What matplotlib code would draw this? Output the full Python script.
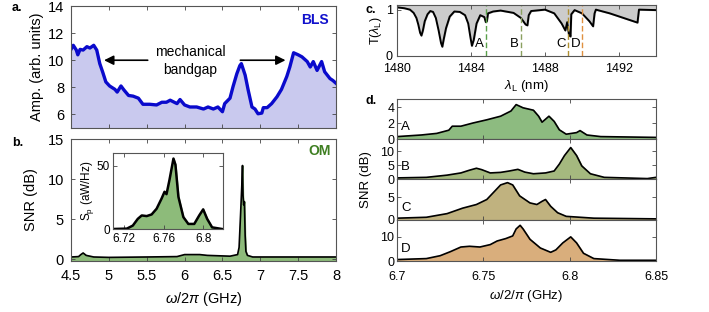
import numpy as np
import matplotlib
matplotlib.use('Agg')
import matplotlib.pyplot as plt

plt.rcParams['font.family'] = ['Liberation Sans', 'DejaVu Sans']
plt.rcParams['mathtext.fontset'] = 'custom'
plt.rcParams['mathtext.rm'] = 'Liberation Sans'
plt.rcParams['mathtext.it'] = 'Liberation Sans:italic'
plt.rcParams['axes.edgecolor'] = '#555555'
plt.rcParams['axes.linewidth'] = 0.8

W, H = 709, 312

# ---- panel a: BLS amplitude vs frequency (GHz)
f_bls = [4.50, 4.53, 4.57, 4.59, 4.62, 4.66, 4.71, 4.75, 4.80, 4.84, 4.88, 4.92,
         4.96, 5.01, 5.08, 5.11, 5.16, 5.20, 5.26, 5.32, 5.39, 5.45, 5.54, 5.63,
         5.70, 5.76, 5.81, 5.90, 5.94, 6.00, 6.07, 6.16, 6.25, 6.31, 6.38, 6.44,
         6.50, 6.53, 6.60, 6.64, 6.69, 6.73, 6.75, 6.80, 6.84, 6.89, 6.93, 6.97,
         7.02, 7.04, 7.09, 7.15, 7.22, 7.28, 7.35, 7.39, 7.44, 7.50, 7.55, 7.62,
         7.66, 7.70, 7.75, 7.81, 7.85, 7.92, 7.96, 8.00]
a_bls = [10.8, 11.1, 10.75, 10.4, 10.8, 10.75, 11.0, 10.9, 11.1, 10.75, 9.75, 9.1,
         8.4, 8.1, 7.85, 7.65, 8.1, 7.8, 7.4, 7.35, 7.2, 6.75, 6.75, 6.7,
         6.9, 6.9, 7.05, 6.8, 7.1, 6.7, 6.55, 6.55, 6.4, 6.55, 6.4, 6.55,
         6.2, 6.8, 7.2, 8.05, 9.0, 9.6, 9.75, 8.9, 7.8, 6.55, 6.4, 6.05,
         6.1, 6.5, 6.5, 6.8, 7.3, 7.85, 8.8, 9.5, 10.55, 10.4, 10.25, 9.9,
         9.5, 9.9, 9.25, 9.9, 9.15, 8.65, 8.5, 8.3]

# ---- panel b: OM SNR (dB)
f_om = [4.50, 4.60, 4.63, 4.66, 4.70, 4.80, 5.00, 5.50, 5.90, 6.00, 6.20, 6.30,
        6.60, 6.70, 6.72, 6.74, 6.755, 6.765, 6.772, 6.78, 6.79, 6.80, 6.81,
        6.83, 6.90, 7.50, 8.00]
snr_om = [0.3, 0.35, 0.6, 0.8, 0.5, 0.3, 0.25, 0.3, 0.35, 0.6, 0.6, 0.5,
          0.4, 0.6, 1.5, 5.7, 9.0, 11.7, 8.0, 6.8, 7.2, 3.0, 1.0,
          0.5, 0.3, 0.3, 0.3]

# inset: S_p (aW/Hz)
f_in = [6.709, 6.723, 6.729, 6.734, 6.738, 6.743, 6.748, 6.753, 6.758, 6.761,
        6.763, 6.766, 6.770, 6.772, 6.775, 6.780, 6.785, 6.791, 6.796, 6.800,
        6.804, 6.809, 6.819]
sp_in = [0.0, 0.3, 2.7, 8.0, 10.7, 10.2, 11.5, 16.0, 24.0, 29.4,
         27.5, 38.8, 55.6, 50.8, 25.4, 9.4, 4.0, 4.0, 10.7, 15.5,
         8.0, 1.3, 0.0]

# ---- panel c: transmission vs wavelength (nm)
lam = [1480.0, 1480.4, 1480.7, 1480.9, 1481.05, 1481.15, 1481.25, 1481.32, 1481.4,
       1481.5, 1481.65, 1481.8, 1481.95, 1482.1, 1482.25, 1482.38, 1482.45, 1482.52,
       1482.65, 1482.85, 1483.1, 1483.4, 1483.68, 1483.85, 1483.97, 1484.05, 1484.15,
       1484.3, 1484.5, 1484.72, 1484.8, 1484.86, 1484.92, 1485.2, 1485.6, 1486.3,
       1486.7, 1486.95, 1487.05, 1487.12, 1487.25, 1488.0, 1488.5, 1488.9, 1489.1,
       1489.2, 1489.29, 1489.38, 1489.42, 1489.6, 1490.0, 1490.4, 1490.6, 1490.68,
       1490.75, 1491.5, 1493.0, 1493.08, 1494.0]
trans = [1.05, 1.03, 1.0, 0.93, 0.82, 0.68, 0.5, 0.44, 0.55,
         0.75, 0.9, 0.97, 0.95, 0.82, 0.55, 0.28, 0.2, 0.35,
         0.6, 0.85, 0.96, 0.95, 0.88, 0.7, 0.4, 0.22, 0.35,
         0.7, 0.88, 0.84, 0.73, 0.75, 0.92, 0.96, 0.98, 0.93,
         0.82, 0.68, 0.66, 0.88, 0.97, 1.0, 0.92, 0.7, 0.55,
         0.73, 0.47, 0.42, 0.9, 0.99, 0.92, 0.75, 0.64, 0.92,
         1.0, 0.92, 0.72, 1.0, 0.99]
lam_marks = [1484.8, 1486.7, 1489.25, 1490.0]
mark_names = ['A', 'B', 'C', 'D']
mark_colors = ['#5aa04a', '#8aa060', '#b09030', '#e09040']

# ---- panel d: SNR spectra at the four detunings
fd_A = [6.700, 6.714, 6.723, 6.730, 6.732, 6.737, 6.744, 6.752, 6.760, 6.766, 6.769,
        6.773, 6.779, 6.782, 6.784, 6.788, 6.791, 6.794, 6.798, 6.804, 6.806, 6.810,
        6.818, 6.850]
snr_A = [0.3, 0.5, 0.7, 1.1, 1.6, 1.6, 2.0, 2.4, 2.85, 3.5, 4.3,
         3.9, 3.6, 2.85, 2.1, 2.85, 2.2, 1.15, 0.6, 0.8, 1.05, 0.5,
         0.3, 0.2]
fd_B = [6.700, 6.717, 6.729, 6.737, 6.742, 6.746, 6.749, 6.754, 6.760, 6.765, 6.770,
        6.774, 6.779, 6.786, 6.791, 6.794, 6.797, 6.8006, 6.804, 6.807, 6.812, 6.820,
        6.845, 6.850]
snr_B = [0.4, 0.6, 1.4, 2.2, 3.2, 3.9, 3.4, 2.2, 2.4, 2.9, 3.5,
         2.5, 1.9, 2.2, 2.9, 5.4, 8.5, 11.4, 8.5, 4.75, 1.9, 0.6,
         0.15, 0.6]
fd_C = [6.700, 6.717, 6.729, 6.738, 6.746, 6.752, 6.756, 6.760, 6.764, 6.767, 6.771,
        6.777, 6.781, 6.784, 6.786, 6.789, 6.793, 6.798, 6.814, 6.850]
snr_C = [0.4, 0.6, 1.4, 2.6, 3.4, 4.5, 6.1, 7.7, 8.2, 7.7, 5.3,
         3.75, 3.4, 4.1, 4.5, 3.0, 1.6, 0.8, 0.4, 0.25]
fd_D = [6.700, 6.717, 6.725, 6.731, 6.737, 6.742, 6.748, 6.754, 6.758, 6.763, 6.767,
        6.769, 6.7713, 6.773, 6.777, 6.783, 6.789, 6.792, 6.796, 6.8006, 6.804, 6.808,
        6.814, 6.829, 6.850]
snr_D = [0.6, 1.0, 2.2, 3.9, 5.8, 6.1, 5.8, 6.8, 8.3, 9.3, 10.4,
         13.3, 14.8, 13.3, 9.0, 5.4, 3.6, 4.6, 7.5, 10.0, 7.5, 3.2,
         1.0, 0.3, 0.3]
d_freqs = [fd_A, fd_B, fd_C, fd_D]
d_snrs = [snr_A, snr_B, snr_C, snr_D]
d_fill = ['#8dbb80', '#a5b97f', '#c0b27f', '#d9ae7c']
d_ylims = [(0, 5), (0, 14.5), (0, 9), (0, 17)]
d_ticks = [[0, 2, 4], [0, 5, 10], [0, 5], [0, 10]]
d_xticks = [6.7, 6.75, 6.8, 6.85]
d_xlabels = ['6.7', '6.75', '6.8', '6.85']


def px_axes(fig, l, t, r, b):
    return fig.add_axes([l / W, 1 - b / H, (r - l) / W, (b - t) / H])


def style(ax, size=9, xpad=4, ypad=4):
    ax.tick_params(direction='in', top=True, right=True, labelsize=size,
                   length=3, width=0.6, color='#444444')
    ax.tick_params(axis='x', pad=xpad)
    ax.tick_params(axis='y', pad=ypad)


fig = plt.figure(figsize=(W / 100, H / 100), dpi=100)

# panel a
ax0 = px_axes(fig, 71, 6, 336, 128)
ax0.fill_between(f_bls, a_bls, 0, color='#c9c9ee')
ax0.plot(f_bls, a_bls, color='#0a0acc', linewidth=2.4)
ax0.set_xlim(4.5, 8)
ax0.set_ylim(5, 14)
ax0.set_yticks([6, 8, 10, 12, 14])
ax0.set_xticks([4.5, 5, 5.5, 6, 6.5, 7, 7.5, 8])
ax0.set_xticklabels([])
ax0.set_ylabel('Amp. (arb. units)', fontsize=10.5, labelpad=3)
style(ax0, 10.5, ypad=5)
ax0.text(7.72, 13.0, 'BLS', color='#1010cc', fontsize=10, fontweight='bold', ha='center', va='center')
ax0.text(6.08, 9.95, 'mechanical\nbandgap', fontsize=10, ha='center', va='center', linespacing=1.3)
ax0.annotate('', xy=(4.9, 10.0), xytext=(5.55, 10.0),
             arrowprops=dict(arrowstyle='-|>', color='black', lw=1.2, mutation_scale=14))
ax0.annotate('', xy=(7.37, 10.0), xytext=(6.70, 10.0),
             arrowprops=dict(arrowstyle='-|>', color='black', lw=1.2, mutation_scale=14))

# panel b
ax1 = px_axes(fig, 71, 139, 336, 261)
ax1.fill_between(f_om, snr_om, -1, color='#8dbb7a')
ax1.plot(f_om, snr_om, color='black', linewidth=1.2)
ax1.set_xlim(4.5, 8)
ax1.set_ylim(-0.2, 15)
ax1.set_yticks([0, 5, 10, 15])
ax1.set_xticks([4.5, 5, 5.5, 6, 6.5, 7, 7.5, 8])
ax1.set_xticklabels(['4.5', '5', '5.5', '6', '6.5', '7', '7.5', '8'])
ax1.set_ylabel('SNR (dB)', fontsize=10.5, labelpad=7)
ax1.set_xlabel(r'$\omega$/2$\pi$ (GHz)', fontsize=10.5, labelpad=5)
style(ax1, 10.5, xpad=6, ypad=5)
ax1.text(7.78, 13.5, 'OM', color='#3f7f22', fontsize=10, fontweight='bold', ha='center', va='center')

# inset
axi = px_axes(fig, 113, 153, 223, 229)
axi.fill_between(f_in, sp_in, 0, color='#8dbb7a')
axi.plot(f_in, sp_in, color='black', linewidth=1.8)
axi.set_xlim(6.709, 6.82)
axi.set_ylim(0, 60)
axi.set_xticks([6.72, 6.76, 6.8])
axi.set_xticklabels(['6.72', '6.76', '6.8'])
axi.set_yticks([0, 50])
axi.set_ylabel(r'S$_\mathrm{p}$ (aW/Hz)', fontsize=8.5, labelpad=1)
style(axi, 8.5, xpad=3, ypad=2)

# panel c
ax2 = px_axes(fig, 397, 5, 656, 56)
ax2.fill_between(lam, trans, 1.1, color='#cccccc')
ax2.plot(lam, trans, color='black', linewidth=1.4)
for lm, nm, cl in zip(lam_marks, mark_names, mark_colors):
    ax2.axvline(lm, color=cl, linestyle='--', linewidth=1.0, dashes=(4, 2))
    ax2.text(lm - 0.1, 0.25, nm, fontsize=9.5, ha='right', va='center')
ax2.set_xlim(1480, 1494)
ax2.set_ylim(0, 1.1)
ax2.set_xticks([1480, 1484, 1488, 1492])
ax2.set_yticks([0, 1])
ax2.set_ylabel(r'T($\lambda_\mathrm{L}$)', fontsize=9, labelpad=1)
ax2.set_xlabel(r'$\lambda_\mathrm{L}$ (nm)', fontsize=9.5, labelpad=2)
style(ax2, 9, xpad=5, ypad=3)

# panel d
bounds = [(99, 139), (139, 179), (179, 220), (220, 261)]
for i in range(4):
    ax = px_axes(fig, 397, bounds[i][0], 656, bounds[i][1])
    ax.fill_between(d_freqs[i], d_snrs[i], 0, color=d_fill[i])
    ax.plot(d_freqs[i], d_snrs[i], color='black', linewidth=1.2)
    ax.set_xlim(6.7, 6.85)
    ax.set_ylim(*d_ylims[i])
    ax.set_yticks(d_ticks[i])
    ax.set_xticks(d_xticks)
    if i < 3:
        ax.set_xticklabels([])
    else:
        ax.set_xticklabels(d_xlabels)
        ax.set_xlabel(r'$\omega$/2/$\pi$ (GHz)', fontsize=9.5, labelpad=4)
    ax.text(0.015, 0.3, mark_names[i], transform=ax.transAxes, fontsize=9.5, ha='left', va='center')
    style(ax, 9, xpad=7, ypad=2)
fig.text(366 / W, 1 - 180 / H, 'SNR (dB)', rotation=90, fontsize=9.5, ha='center', va='center')

fig.text(12 / W, 1 - 8 / H, 'a.', fontsize=9, fontweight='bold', va='center')
fig.text(12 / W, 1 - 143 / H, 'b.', fontsize=9, fontweight='bold', va='center')
fig.text(365 / W, 1 - 10 / H, 'c.', fontsize=9, fontweight='bold', va='center')
fig.text(365 / W, 1 - 101 / H, 'd.', fontsize=9, fontweight='bold', va='center')

fig.savefig('out.png', dpi=100)
